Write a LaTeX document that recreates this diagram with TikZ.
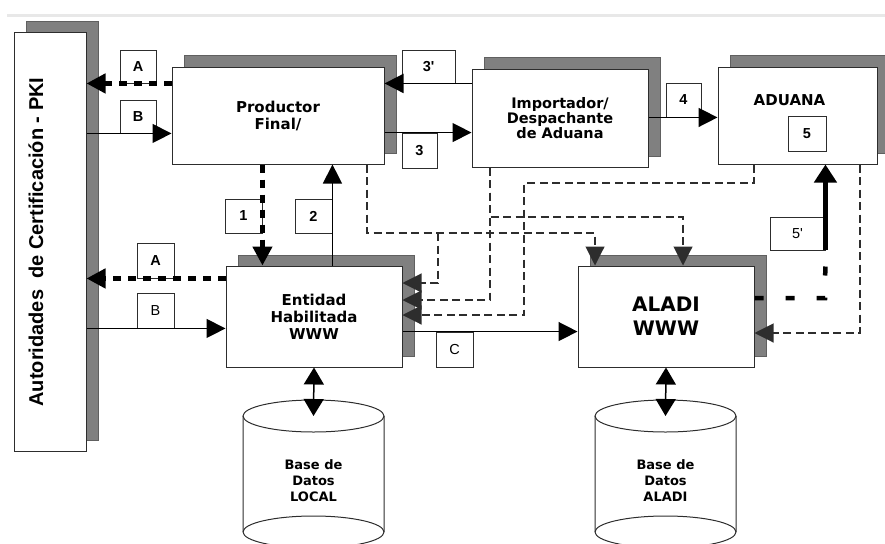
\documentclass[tikz,border=0pt]{standalone}
\usepackage{fontspec}
\setmainfont{DejaVu Sans}
\newfontfamily\arialf{Liberation Sans}
\usepackage{tikz}
\usetikzlibrary{arrows.meta,shadows}
\definecolor{sombra}{RGB}{128,128,128}
\definecolor{borde}{RGB}{45,45,45}
\definecolor{linea}{RGB}{232,232,232}

\begin{document}
\begin{tikzpicture}[x=1pt,y=-1pt,
	caja/.style={draw=borde,fill=white,line width=1pt,inner sep=0pt,align=center,font=\bfseries\fontsize{15}{17}\selectfont,copy shadow={shadow xshift=12pt,shadow yshift=11pt,fill=sombra,draw=sombra!75!black,line width=1pt}},
	etiq/.style={draw=borde,line width=0.9pt,inner sep=0pt,minimum width=37pt,minimum height=34pt,font=\arialf\bfseries\fontsize{14.5}{16}\selectfont},
	normal/.style={font=\arialf\fontsize{14.5}{16}\selectfont},
	flecha/.style={-{Triangle[length=19pt,width=19pt]}},
	flechag/.style={-{Triangle[length=18pt,width=22pt]}},
	doble/.style={{Triangle[length=17pt,width=20pt]}-{Triangle[length=17pt,width=20pt]}},
	punteada/.style={dash pattern=on 8pt off 4.5pt,line width=1.1pt,draw=borde},
	gruesa/.style={line width=4.5pt,dash pattern=on 8pt off 7pt},
	datos/.style={align=center,font=\bfseries\fontsize{13}{16}\selectfont}]
		\useasboundingbox (0,0) rectangle (885,543);
		\draw[linea,line width=3pt] (7,16) -- (885,16);
		\node[caja,minimum width=72pt,minimum height=418pt] (pki) at (50,242) {};
		\node[rotate=90,font=\arialf\bfseries\fontsize{20}{24}\selectfont] (pkitxt) at (36,242) {Autoridades\ \ de Certificación - PKI};
		\node[caja,minimum width=212pt,minimum height=97pt] (prod) at (278,115.5) {Productor\\Final/};
		\node[caja,minimum width=176pt,minimum height=98pt,font=\bfseries\fontsize{14.5}{15}\selectfont] (imp) at (560,118) {Importador/\\Despachante\\de Aduana};
		\node[caja,minimum width=159pt,minimum height=97pt] (adu) at (797.5,115.5) {};
		\node[font=\bfseries\fontsize{15}{17}\selectfont] (adutxt) at (789.5,100.5) {ADUANA};
		\node[caja,minimum width=176pt,minimum height=101pt] (ent) at (314,316.5) {Entidad\\Habilitada\\WWW};
		\node[caja,minimum width=176pt,minimum height=101pt,font=\bfseries\fontsize{20}{24}\selectfont] (aladi) at (666,316.5) {ALADI\\WWW};
		\draw[line width=1pt,draw=borde] (243,416) -- (243,532) arc[start angle=180,end angle=0,x radius=70.5,y radius=16] -- (384,416);
		\draw[line width=1pt,draw=borde] (243,532) arc[start angle=180,end angle=360,x radius=70.5,y radius=16];
		\draw[line width=1pt,draw=borde] (313.5,416) ellipse[x radius=70.5,y radius=16];
		\coordinate (bdlocal) at (313.5,416);
		\node[datos] (bdlocaltxt) at (313.5,481) {Base de\\Datos\\LOCAL};
		\draw[line width=1pt,draw=borde] (595,416) -- (595,532) arc[start angle=180,end angle=0,x radius=70.5,y radius=16] -- (736,416);
		\draw[line width=1pt,draw=borde] (595,532) arc[start angle=180,end angle=360,x radius=70.5,y radius=16];
		\draw[line width=1pt,draw=borde] (665.5,416) ellipse[x radius=70.5,y radius=16];
		\coordinate (bdaladi) at (665.5,416);
		\node[datos] (bdaladitxt) at (665.5,481) {Base de\\Datos\\ALADI};
		\node[etiq,minimum width=36pt,minimum height=33pt] (aA) at (138,66.5) {A};
		\node[etiq,minimum width=36pt,minimum height=33pt] (bB) at (138,116.5) {B};
		\node[etiq,minimum width=53pt,minimum height=33pt] (t3p) at (428.5,66.5) {3'};
		\node[etiq,minimum width=35pt,minimum height=35pt] (t3) at (419.5,150.5) {3};
		\node[etiq,minimum width=35pt,minimum height=34pt] (t4) at (683.5,100) {4};
		\node[etiq,minimum width=38pt,minimum height=35pt] (t5) at (807,133.5) {5};
		\node[etiq] (t1) at (243.5,216) {1};
		\node[etiq] (t2) at (313.5,216) {2};
		\node[etiq,minimum height=35pt] (aA2) at (155.5,260.5) {A};
		\node[etiq,normal,minimum height=35pt] (bB2) at (155.5,310.5) {B};
		\node[etiq,normal,minimum height=35pt] (tC) at (454.5,349.5) {C};
		\node[etiq,normal,minimum width=55pt,minimum height=33pt] (t5p) at (797.5,233.5) {5'};
		\draw[gruesa,flecha] (prod.west |- aA.south) -- (pki.east |- aA.south);
		\draw[line width=1.2pt,flecha] (pki.east |- bB.south) -- (prod.west |- bB.south);
		\draw[line width=1.8pt,flecha] (imp.west |- t3p.south) -- (prod.east |- t3p.south);
		\draw[line width=1.2pt,flecha] (prod.east |- t3.north) -- (imp.west |- t3.north);
		\draw[line width=1.5pt,flecha] (imp.east |- t4.south) -- (adu.west |- t4.south);
		\draw[gruesa,flecha] (t1.east |- prod.south) -- (t1.east |- ent.north);
		\draw[line width=1.2pt,flecha] (t2.east |- ent.north) -- (t2.east |- prod.south);
		\draw[gruesa,flecha] (ent.west |- aA2.south) -- (pki.east |- aA2.south);
		\draw[line width=1.2pt,flecha] (pki.east |- bB2.south) -- (ent.west |- bB2.south);
		\draw[line width=1.5pt,flecha] (ent.east |- tC.north) -- (aladi.west |- tC.north);
		\draw[line width=4.5pt,flechag] (t5p.south east) -- (t5p.east |- adu.south);
		\draw[gruesa,dash pattern=on 9pt off 22pt] (aladi.east |- 0,298) -- (825,298) -- (t5p.south east);
		\draw[punteada,flecha] (367,0 |- prod.south) -- (367,233) -- (595,233) -- (595,0 |- aladi.north);
		\draw[punteada,flecha] (490,0 |- imp.south) -- (490,217) -- (683,217) -- (683,0 |- aladi.north);
		\draw[punteada,flecha] (490,0 |- imp.south) -- (490,300) -- (ent.east |- 0,300);
		\draw[punteada,flecha] (438,233) -- (438,283) -- (ent.east |- 0,283);
		\draw[punteada,flecha] (754,0 |- adu.south) -- (754,183) -- (524,183) -- (524,315) -- (ent.east |- 0,315);
		\draw[punteada,flecha] (860,0 |- adu.south) -- (860,333) -- (aladi.east |- 0,333);
		\draw[line width=1.5pt,doble] (ent.south) -- (bdlocal);
		\draw[line width=1.5pt,doble] (aladi.south) -- (bdaladi);
\end{tikzpicture}
\end{document}
